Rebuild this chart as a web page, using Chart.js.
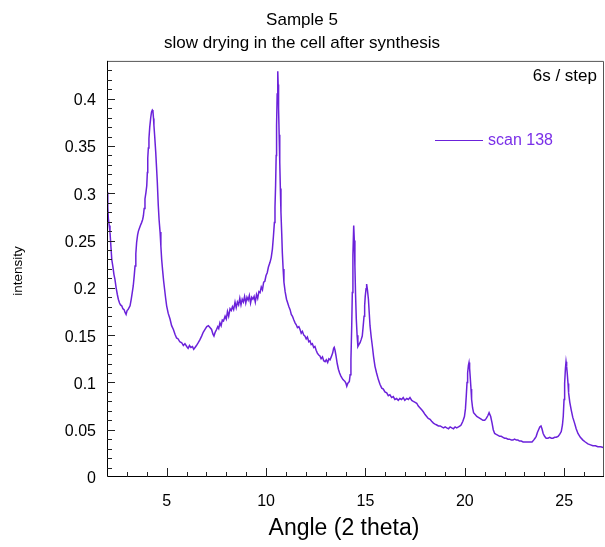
<!DOCTYPE html>
<html>
<head>
<meta charset="utf-8">
<script src="https://cdn.jsdelivr.net/npm/chart.js@4.4.0/dist/chart.umd.min.js"></script>
<style>
  html, body { margin: 0; padding: 0; background: #fff; }
  #wrap { width: 605px; height: 547px; }
</style>
</head>
<body>
<div id="wrap"><canvas id="xrd" width="605" height="547"></canvas></div>
<script>
// scan 138 - angle (2 theta) and intensity
const angle = [
  2.00, 2.04, 2.07, 2.11, 2.15, 2.20, 2.24, 2.30, 2.35, 2.40, 2.46, 2.52, 2.57, 2.63, 2.68, 2.74, 2.80, 2.86, 2.91, 2.96,
  3.01, 3.06, 3.11, 3.16, 3.22, 3.27, 3.32, 3.37, 3.41, 3.45, 3.49, 3.54, 3.58, 3.63, 3.68, 3.74, 3.79, 3.83, 3.87, 3.91,
  3.96, 4.00, 4.03, 4.05, 4.08, 4.11, 4.15, 4.20, 4.24, 4.28, 4.31, 4.34, 4.36, 4.40, 4.45, 4.49, 4.53, 4.58, 4.62, 4.67,
  4.71, 4.75, 4.80, 4.85, 4.90, 4.95, 5.00, 5.08, 5.17, 5.25, 5.34, 5.42, 5.50, 5.58, 5.66, 5.76, 5.84, 5.92, 6.01, 6.08,
  6.15, 6.22, 6.30, 6.36, 6.43, 6.50, 6.59, 6.67, 6.76, 6.84, 6.93, 7.02, 7.10, 7.18, 7.26, 7.33, 7.38, 7.44, 7.51, 7.57,
  7.62, 7.68, 7.74, 7.80, 7.86, 7.94, 8.00, 8.06, 8.12, 8.19, 8.25, 8.31, 8.37, 8.44, 8.50, 8.56, 8.62, 8.68, 8.74, 8.80,
  8.86, 8.92, 8.98, 9.04, 9.10, 9.16, 9.22, 9.28, 9.34, 9.40, 9.46, 9.52, 9.58, 9.64, 9.70, 9.76, 9.82, 9.88, 9.94, 10.00,
  10.06, 10.12, 10.20, 10.26, 10.32, 10.37, 10.42, 10.45, 10.48, 10.51, 10.53, 10.56, 10.59, 10.61, 10.63, 10.66, 10.69, 10.72, 10.75, 10.79,
  10.82, 10.86, 10.90, 10.96, 11.03, 11.09, 11.15, 11.21, 11.27, 11.33, 11.40, 11.46, 11.52, 11.58, 11.65, 11.71, 11.77, 11.83, 11.90, 11.96,
  12.02, 12.08, 12.15, 12.21, 12.27, 12.33, 12.40, 12.46, 12.52, 12.58, 12.65, 12.71, 12.77, 12.84, 12.90, 12.97, 13.03, 13.10, 13.16, 13.22,
  13.28, 13.35, 13.40, 13.43, 13.47, 13.52, 13.58, 13.64, 13.70, 13.76, 13.81, 13.87, 13.92, 13.97, 14.02, 14.06, 14.11, 14.15, 14.19, 14.23,
  14.27, 14.31, 14.34, 14.37, 14.41, 14.44, 14.47, 14.50, 14.54, 14.58, 14.62, 14.67, 14.73, 14.78, 14.84, 14.88, 14.93, 14.96, 14.99, 15.03,
  15.06, 15.10, 15.15, 15.19, 15.23, 15.29, 15.35, 15.41, 15.48, 15.56, 15.65, 15.73, 15.82, 15.90, 15.98, 16.07, 16.15, 16.23, 16.32, 16.40,
  16.48, 16.57, 16.65, 16.73, 16.82, 16.90, 16.98, 17.08, 17.16, 17.24, 17.33, 17.41, 17.50, 17.58, 17.66, 17.75, 17.83, 17.91, 18.00, 18.08,
  18.16, 18.25, 18.33, 18.42, 18.50, 18.59, 18.67, 18.76, 18.84, 18.93, 19.01, 19.09, 19.18, 19.26, 19.34, 19.43, 19.51, 19.59, 19.68, 19.76,
  19.81, 19.90, 19.98, 20.03, 20.07, 20.11, 20.14, 20.18, 20.21, 20.24, 20.27, 20.31, 20.34, 20.39, 20.44, 20.52, 20.60, 20.68, 20.76, 20.84,
  20.91, 21.00, 21.08, 21.16, 21.22, 21.25, 21.30, 21.37, 21.43, 21.50, 21.58, 21.67, 21.75, 21.83, 21.92, 22.00, 22.08, 22.17, 22.25, 22.34,
  22.42, 22.50, 22.59, 22.67, 22.75, 22.84, 22.93, 23.01, 23.10, 23.18, 23.28, 23.38, 23.46, 23.53, 23.59, 23.65, 23.71, 23.77, 23.83, 23.88,
  23.94, 24.01, 24.09, 24.18, 24.27, 24.35, 24.43, 24.52, 24.60, 24.69, 24.77, 24.85, 24.91, 24.95, 24.99, 25.02, 25.06, 25.09, 25.12, 25.15,
  25.19, 25.22, 25.28, 25.35, 25.43, 25.52, 25.60, 25.69, 25.81, 25.94, 26.06, 26.19, 26.32, 26.44, 26.57, 26.69, 26.84, 27.00
];
const intensity = [
  0.301, 0.285, 0.273, 0.266, 0.259, 0.243, 0.230, 0.222, 0.214, 0.209, 0.200, 0.193, 0.188, 0.184, 0.182, 0.181, 0.178, 0.177, 0.174, 0.172,
  0.176, 0.177, 0.179, 0.181, 0.188, 0.195, 0.202, 0.213, 0.223, 0.236, 0.248, 0.256, 0.260, 0.263, 0.266, 0.269, 0.272, 0.276, 0.284, 0.294,
  0.301, 0.308, 0.322, 0.337, 0.348, 0.358, 0.370, 0.380, 0.386, 0.388, 0.387, 0.379, 0.372, 0.360, 0.344, 0.328, 0.312, 0.287, 0.272, 0.259,
  0.244, 0.230, 0.218, 0.207, 0.198, 0.189, 0.181, 0.173, 0.167, 0.160, 0.156, 0.151, 0.147, 0.146, 0.143, 0.142, 0.139, 0.141, 0.138, 0.136,
  0.139, 0.137, 0.138, 0.135, 0.137, 0.139, 0.142, 0.145, 0.149, 0.153, 0.156, 0.159, 0.160, 0.158, 0.156, 0.151, 0.149, 0.153, 0.156, 0.159,
  0.157, 0.163, 0.160, 0.166, 0.165, 0.170, 0.167, 0.175, 0.170, 0.178, 0.176, 0.180, 0.177, 0.185, 0.179, 0.185, 0.182, 0.189, 0.182, 0.188,
  0.185, 0.191, 0.184, 0.190, 0.187, 0.192, 0.184, 0.190, 0.188, 0.191, 0.185, 0.193, 0.189, 0.196, 0.195, 0.201, 0.198, 0.206, 0.207, 0.213,
  0.216, 0.222, 0.227, 0.232, 0.241, 0.254, 0.269, 0.285, 0.308, 0.340, 0.372, 0.405, 0.429, 0.415, 0.390, 0.362, 0.333, 0.305, 0.280, 0.257,
  0.237, 0.220, 0.206, 0.196, 0.188, 0.184, 0.180, 0.177, 0.172, 0.170, 0.166, 0.163, 0.161, 0.158, 0.159, 0.156, 0.152, 0.154, 0.150, 0.149,
  0.146, 0.148, 0.143, 0.144, 0.140, 0.141, 0.137, 0.138, 0.134, 0.131, 0.129, 0.128, 0.125, 0.127, 0.123, 0.122, 0.124, 0.121, 0.125, 0.124,
  0.127, 0.131, 0.136, 0.137, 0.134, 0.128, 0.120, 0.114, 0.110, 0.107, 0.105, 0.103, 0.102, 0.101, 0.099, 0.096, 0.099, 0.100, 0.101, 0.108,
  0.124, 0.160, 0.195, 0.235, 0.266, 0.250, 0.223, 0.195, 0.167, 0.150, 0.138, 0.140, 0.142, 0.145, 0.149, 0.158, 0.170, 0.181, 0.191, 0.199,
  0.204, 0.198, 0.188, 0.174, 0.160, 0.148, 0.138, 0.127, 0.117, 0.110, 0.103, 0.098, 0.094, 0.093, 0.090, 0.089, 0.086, 0.087, 0.084, 0.085,
  0.082, 0.083, 0.081, 0.083, 0.082, 0.084, 0.081, 0.083, 0.082, 0.084, 0.081, 0.080, 0.079, 0.078, 0.075, 0.073, 0.071, 0.069, 0.066, 0.064,
  0.062, 0.061, 0.059, 0.057, 0.056, 0.055, 0.054, 0.054, 0.053, 0.052, 0.053, 0.052, 0.051, 0.053, 0.052, 0.051, 0.053, 0.052, 0.053, 0.054,
  0.055, 0.059, 0.064, 0.072, 0.085, 0.100, 0.110, 0.118, 0.121, 0.115, 0.106, 0.093, 0.082, 0.073, 0.068, 0.066, 0.064, 0.063, 0.062, 0.061,
  0.060, 0.060, 0.062, 0.065, 0.068, 0.068, 0.064, 0.057, 0.050, 0.046, 0.045, 0.044, 0.043, 0.043, 0.042, 0.041, 0.041, 0.040, 0.040, 0.039,
  0.039, 0.040, 0.039, 0.039, 0.038, 0.038, 0.037, 0.037, 0.037, 0.037, 0.037, 0.037, 0.039, 0.041, 0.043, 0.047, 0.050, 0.053, 0.054, 0.051,
  0.046, 0.043, 0.041, 0.041, 0.042, 0.041, 0.041, 0.042, 0.042, 0.043, 0.045, 0.048, 0.055, 0.064, 0.082, 0.099, 0.115, 0.122, 0.117, 0.110,
  0.099, 0.089, 0.079, 0.071, 0.063, 0.057, 0.051, 0.046, 0.042, 0.039, 0.037, 0.035, 0.034, 0.033, 0.033, 0.032, 0.032, 0.031
];

const xTickValues = [5, 10, 15, 20, 25];
const yTickValues = [0, 0.05, 0.1, 0.15, 0.2, 0.25, 0.3, 0.35, 0.4];

const titleLines = ['Sample 5', 'slow drying in the cell after synthesis'];
const seriesName = 'scan 138';
const stepNote = '6s / step';
const xTitle = 'Angle (2 theta)';
const yTitle = 'intensity';

const lineColour = '#6b22da';
const fontFamily = '"Liberation Sans", Arial, sans-serif';

const points = angle.map((a, i) => ({ x: a, y: intensity[i] }));

// frame, inward ticks, legend and axis titles (drawn on top of the chart area)
const decorPlugin = {
  id: 'decor',
  afterDraw(chart) {
    const ctx = chart.ctx;
    const area = chart.chartArea;
    const xs = chart.scales.x;
    const ys = chart.scales.y;
    ctx.save();

    // frame
    ctx.lineWidth = 1;
    ctx.strokeStyle = '#555';
    ctx.beginPath();
    ctx.moveTo(area.left, area.top + 0.5);
    ctx.lineTo(area.right - 0.5, area.top + 0.5);
    ctx.lineTo(area.right - 0.5, area.bottom);
    ctx.stroke();
    ctx.strokeStyle = '#000';
    ctx.beginPath();
    ctx.moveTo(area.left + 0.5, area.top);
    ctx.lineTo(area.left + 0.5, area.bottom - 0.5);
    ctx.lineTo(area.right, area.bottom - 0.5);
    ctx.stroke();

    // ticks pointing into the plot
    ctx.strokeStyle = '#222';
    for (let v = 3; v <= 26; v++) {
      const px = Math.round(xs.getPixelForValue(v)) + 0.5;
      const len = v % 5 === 0 ? 9 : 5;
      ctx.beginPath();
      ctx.moveTo(px, area.bottom);
      ctx.lineTo(px, area.bottom - len);
      ctx.stroke();
    }
    for (let k = 1; k <= 43; k++) {
      const py = Math.round(ys.getPixelForValue(k / 100)) + 0.5;
      const len = k % 5 === 0 ? 8 : 5;
      ctx.beginPath();
      ctx.moveTo(area.left, py);
      ctx.lineTo(area.left + len, py);
      ctx.stroke();
    }

    // step note
    ctx.fillStyle = '#000';
    ctx.font = '17px ' + fontFamily;
    ctx.textAlign = 'right';
    ctx.textBaseline = 'middle';
    ctx.fillText(stepNote, 597, 76);

    // legend
    ctx.strokeStyle = lineColour;
    ctx.lineWidth = 1.2;
    ctx.beginPath();
    ctx.moveTo(435, 140.5);
    ctx.lineTo(483, 140.5);
    ctx.stroke();
    ctx.fillStyle = '#7a2fe8';
    ctx.font = '16px ' + fontFamily;
    ctx.textAlign = 'left';
    ctx.fillText(seriesName, 488, 141);

    // axis titles
    ctx.fillStyle = '#000';
    ctx.font = '23px ' + fontFamily;
    ctx.textAlign = 'center';
    ctx.fillText(xTitle, 344, 529);
    ctx.translate(18, 271);
    ctx.rotate(-Math.PI / 2);
    ctx.font = '13.5px ' + fontFamily;
    ctx.fillText(yTitle, 0, 0);

    ctx.restore();
  }
};

new Chart(document.getElementById('xrd'), {
  type: 'line',
  data: {
    datasets: [{
      label: seriesName,
      data: points,
      borderColor: lineColour,
      borderWidth: 1.5,
      pointRadius: 0,
      tension: 0,
      fill: false
    }]
  },
  options: {
    responsive: false,
    animation: false,
    layout: { padding: { left: 0, right: 1, top: 0, bottom: 0 } },
    scales: {
      x: {
        type: 'linear',
        min: 2,
        max: 27,
        afterBuildTicks: (scale) => { scale.ticks = xTickValues.map(v => ({ value: v })); },
        afterFit: (scale) => { scale.height = 70; },
        grid: { display: false, drawTicks: false },
        border: { display: false },
        ticks: {
          padding: 15,
          color: '#000',
          font: { family: fontFamily, size: 16 },
          maxRotation: 0
        }
      },
      y: {
        type: 'linear',
        min: 0,
        max: 0.44,
        afterBuildTicks: (scale) => { scale.ticks = yTickValues.map(v => ({ value: v })); },
        afterFit: (scale) => { scale.width = 107; },
        grid: { display: false, drawTicks: false },
        border: { display: false },
        ticks: {
          padding: 11,
          labelOffset: 2,
          color: '#000',
          font: { family: fontFamily, size: 16 },
          callback: (v) => String(Math.round(v * 100) / 100)
        }
      }
    },
    plugins: {
      legend: { display: false },
      tooltip: { enabled: false },
      title: {
        display: true,
        text: titleLines,
        color: '#000',
        font: { family: fontFamily, size: 17, weight: 'normal', lineHeight: 1.35 },
        padding: { top: 9, bottom: 6 }
      }
    }
  },
  plugins: [decorPlugin]
});
</script>
</body>
</html>
